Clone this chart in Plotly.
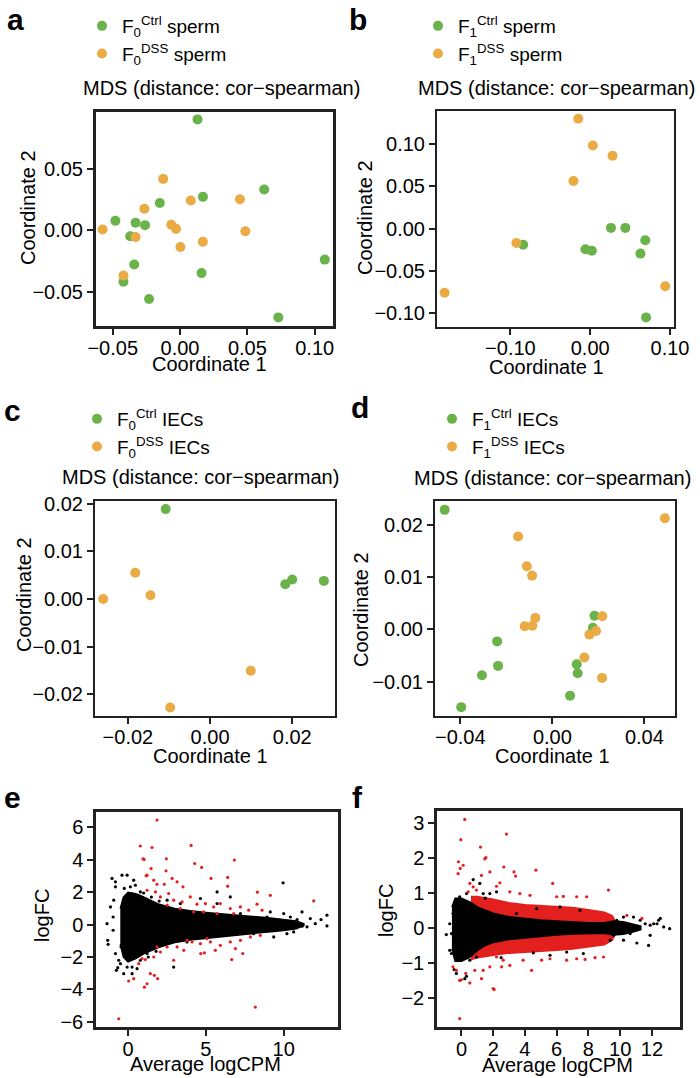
import plotly.graph_objects as go

W, H = 700, 1078
FONT = "Liberation Sans, Arial, Helvetica, sans-serif"
GREEN = "#6AB24A"
ORANGE = "#EAAB45"
RED = "#E3201E"

# ---------------- Panel a: F0 sperm MDS ----------------
a_ctrl_x = [0.013, -0.015, 0.017, 0.0625, -0.048, -0.033, -0.026, -0.037, -0.034, 0.016, -0.042, -0.023, 0.073, 0.1075]
a_ctrl_y = [0.090, 0.022, 0.027, 0.033, 0.0076, 0.006, 0.004, -0.005, -0.028, -0.035, -0.042, -0.056, -0.071, -0.024]
a_dss_x = [-0.0575, -0.0125, -0.0265, 0.008, 0.0445, -0.0065, -0.003, -0.033, 0.0003, 0.017, 0.0485, -0.042]
a_dss_y = [0.0005, 0.0416, 0.0173, 0.024, 0.025, 0.0043, 0.001, -0.0057, -0.0138, -0.0095, -0.001, -0.037]

# ---------------- Panel b: F1 sperm MDS ----------------
b_ctrl_x = [-0.084, -0.006, 0.002, 0.026, 0.044, 0.069, 0.063, 0.070]
b_ctrl_y = [-0.019, -0.0244, -0.026, 0.0008, 0.0008, -0.0138, -0.0295, -0.1047]
b_dss_x = [-0.015, 0.0033, 0.028, -0.021, -0.0925, -0.1825, 0.094]
b_dss_y = [0.1295, 0.098, 0.086, 0.056, -0.017, -0.0756, -0.068]

# ---------------- Panel c: F0 IECs MDS ----------------
c_ctrl_x = [-0.0108, 0.0183, 0.0200, 0.0277]
c_ctrl_y = [0.0189, 0.0031, 0.0041, 0.0038]
c_dss_x = [-0.026, -0.0182, -0.0145, 0.0099, -0.0097]
c_dss_y = [0.0, 0.0055, 0.0008, -0.0151, -0.0228]

# ---------------- Panel d: F1 IECs MDS ----------------
d_ctrl_x = [-0.0468, -0.024, -0.0236, -0.0306, -0.0396, 0.0183, 0.0176, 0.0106, 0.011, 0.0077]
d_ctrl_y = [0.0229, -0.0023, -0.0070, -0.0088, -0.0149, 0.0026, 0.0003, -0.0067, -0.0084, -0.0127]
d_dss_x = [0.0489, -0.0149, -0.0111, -0.0088, -0.0074, -0.012, -0.0087, 0.0217, 0.019, 0.0161, 0.0139, 0.0216]
d_dss_y = [0.0213, 0.0178, 0.0121, 0.0103, 0.0022, 0.0006, 0.0007, 0.0025, -0.0003, -0.001, -0.0054, -0.0093]

# ---------------- Panel e: MA plot (F0) ----------------
# dense black cloud outline (upper / lower edge of the bulk of genes)
e_core_x = [-0.5, -0.3, 0, 0.5, 1, 1.5, 2, 3, 4, 5, 6, 7, 8, 9, 10, 10.8, 11.3]
e_core_hi = [1.0, 1.7, 2.0, 1.9, 1.7, 1.45, 1.25, 1.0, 0.85, 0.75, 0.68, 0.6, 0.5, 0.42, 0.33, 0.22, 0.05]
e_core_lo = [-1.2, -2.0, -2.3, -2.1, -1.8, -1.6, -1.4, -1.1, -0.95, -0.85, -0.75, -0.65, -0.55, -0.45, -0.36, -0.25, -0.05]
e_red_x = [1.86, 0.79, 1.54, 4.05, 0.96, 1.03, 2.46, 6.83, 4.28, 4.73, 1.48, 1.22, 1.16, 2.44, 5.33, 6.4, 6.4,
           8.31, 9.14, 11.93, 1.65, 1.86, 2.33, 2.83, 3.15, 3.53, 1.76, 2.08, 2.61, 2.93, 3.47, 4.0, 4.43, 4.97,
           5.5, 5.93, 6.57, 7.22, 7.75, 8.29, 8.61, 4.86, 4.22, 5.72, 6.79, 3.36, 2.51, 1.22,
           0.04, 0.36, 1.05, 1.22, 1.43, 1.69, 1.9, 0.69, 0.9, 1.11, 2.93, 4.67, 4.9, 6.66, 7.37, 8.18, -0.6,
           2.08, 2.51, 3.15, 3.58, 4.11, 4.65, 5.29, 5.93, 6.57, 7.22, 7.86, 8.5, 3.79, 5.07, 1.65, 1.86, 5.61, 6.9]
e_red_y = [6.45, 4.85, 4.76, 4.89, 4.06, 4.02, 4.06, 3.98, 3.77, 3.53, 3.46, 3.05, 3.01, 3.32, 2.85, 2.91, 2.37,
           2.0, 1.81, 1.46, 2.74, 2.49, 2.49, 2.85, 2.64, 2.33, 2.02, 1.71, 1.92, 1.51, 1.40, 1.71, 1.26, 1.30,
           1.09, 1.30, 0.99, 1.09, 0.89, 1.26, 0.89, 0.78, 0.78, 0.68, 0.68, 0.99, 1.2, 2.12,
           -3.48, -3.34, -3.86, -3.65, -3.03, -3.13, -3.34, -2.41, -2.1, -2.16, -2.2, -1.79, -1.75, -2.16, -1.79, -5.09, -5.81,
           -1.69, -1.38, -1.38, -1.59, -1.07, -1.18, -1.07, -1.28, -1.07, -0.97, -0.76, -0.66, -0.97, -0.87, -2.0, -1.38, -1.59, -1.48]
e_blk_x = [-1.35, -1.31, -1.28, -1.03, -0.81, -0.75, -0.66, -0.49, -0.45, -0.92, -0.81, -0.39, -0.06, 0.36, 0.26,
           -0.28, -0.06, 9.96, 11.18, 12.78, 12.78, 12.4, 12.03, 11.71, 11.5, 11.18, 10.86, 10.43, 10.64, 10.21,
           6.57, 5.72, 2.93, 4.65, 9.14, 10.0, 9.36,
           -1.13, -0.96, -0.96, -0.81, -0.6, -0.24, 0.15, 0.47, 0.79, 0.26, 0.58, 0.79, 1.22, 2.51, 3.36, 3.79,
           5.72, 7.22, 8.07, 8.93, 1.0, 1.5, 2.0, 1.3, 1.8]
e_blk_y = [0.06, -0.97, -1.22, 2.85, 2.64, -2.82, -2.66, -2.41, -1.38, 1.51, 2.33, 3.05, 3.05, 2.74, -3.03,
           -3.03, -2.62, 2.58, 0.78, 0.58, -0.08, 0.31, 0.06, 0.37, -0.14, -0.1, 0.31, 0.47, -0.45, -0.56,
           1.71, 2.02, -2.62, 1.61, 0.78, 0.68, -0.76,
           1.09, 0.47, -0.35, -1.79, -2.2, 2.23, 2.33, 2.43, 2.02, -2.62, -2.72, -2.2, -1.79, 1.51, 1.3, -1.07,
           1.3, 0.68, -0.56, 0.47, 1.95, 1.7, 1.45, -2.0, -1.65]

# ---------------- Panel f: MA plot (F1) ----------------
f_core_x = [-0.6, -0.4, 0, 0.5, 1, 1.5, 2, 3, 4, 5, 6, 7, 8, 9, 9.6, 10.2, 10.8, 11.3]
f_core_hi = [0.6, 0.85, 0.85, 0.75, 0.6, 0.5, 0.42, 0.32, 0.27, 0.23, 0.2, 0.17, 0.15, 0.15, 0.2, 0.18, 0.12, 0.05]
f_core_lo = [-0.6, -0.95, -0.95, -0.85, -0.65, -0.5, -0.42, -0.33, -0.28, -0.24, -0.2, -0.17, -0.15, -0.15, -0.2, -0.18, -0.12, -0.05]
f_band_x = [0.6, 1, 2, 3, 4, 5, 6, 7, 8, 9, 9.5, 9.8]
f_band_hi = [0.9, 0.9, 0.82, 0.72, 0.66, 0.64, 0.62, 0.58, 0.52, 0.45, 0.35, 0.1]
f_band_lo = [-0.9, -0.85, -0.78, -0.72, -0.68, -0.66, -0.64, -0.6, -0.55, -0.48, -0.35, -0.1]
f_red_x = [0.21, -0.04, 2.84, 1.2, 1.54, 1.47, -0.19, 0.11, -0.08, -0.21, 2.67, 4.69, 3.31, 3.41, 1.79, 1.26,
           5.75, 2.42, 2.21, 9.26, 4.32, 6.0, 6.42, 7.26, 7.89, 3.05, 3.68, 0.53, 0.74, 0.95, 0.42, 10.42, 11.37,
           -0.11, 2.0, 2.06, 1.26, 0.53, -0.11, 0.0, 0.27, 4.42, 0.84, 1.37, 1.79, 2.53, 3.05, 6.63, 7.26, 7.79,
           8.42, 8.95, 5.05, 5.58, 3.89, -0.32, -0.53, 2.21, 2.63]
f_red_y = [3.1, 2.52, 2.68, 2.31, 2.01, 1.97, 1.89, 1.79, 1.7, 1.55, 1.74, 1.65, 1.6, 1.48, 1.6, 1.5,
           1.27, 1.29, 1.19, 1.08, 0.93, 0.89, 0.9, 0.89, 0.89, 1.03, 0.98, 1.27, 1.17, 1.08, 1.03, 0.36, 0.27,
           -2.59, -1.73, -1.76, -1.45, -1.57, -1.5, -1.48, -1.3, -1.21, -1.21, -1.21, -1.11, -1.11, -1.07, -0.92, -0.88, -0.9,
           -0.85, -0.83, -0.92, -0.88, -0.92, -1.21, -1.11, -0.83, -0.92]
f_blk_x = [-0.95, -0.74, -0.74, -0.63, -0.46, -0.32, 0.21, 0.32, 0.74, 1.16, 1.37, 1.79, 2.21, -0.32, -0.42,
           11.89, 12.32, 12.74, 13.12, 11.89, 11.79, 11.05, 10.84, 11.26, 11.58, 12.11, 12.42, 12.53,
           10.53, 10.21, 9.89, 9.58, 9.37, 9.79, 10.21, 10.63, 6.63, 5.58, 4.53, 7.68, 3.47, 4.74, 6.21, 7.47,
           -0.53, -0.63, -0.48, -0.11, 0.32, 0.53, 0.95, 1.5, 2.5]
f_blk_y = [-0.19, 0.12, -0.64, -0.73, -1.19, -1.3, -1.45, -1.38, 1.38, 1.27, 0.98, 0.98, 1.03, 0.79, 0.7,
           0.08, 0.12, 0.03, -0.02, -0.21, -0.5, -0.43, 0.31, 0.22, 0.12, 0.12, 0.22, 0.27,
           0.03, 0.31, -0.11, -0.21, -0.35, 0.22, -0.35, -0.16, -0.69, -0.78, -0.71, -0.73, 0.41, 0.55, 0.6, 0.5,
           0.41, -0.16, -0.54, 0.89, 0.98, -0.92, -0.83, 0.85, -0.85]

# ---------------- figure ----------------
fig = go.Figure()

def mds(xs, ys, color, name, ax, leg):
    fig.add_trace(go.Scatter(x=xs, y=ys, mode="markers", name=name,
                             marker=dict(color=color, size=10, line=dict(width=0)),
                             xaxis="x" + ax, yaxis="y" + ax, legend=leg))

mds(a_ctrl_x, a_ctrl_y, GREEN, "F<sub>0</sub><sup>Ctrl</sup> sperm", "", "legend")
mds(a_dss_x, a_dss_y, ORANGE, "F<sub>0</sub><sup>DSS</sup> sperm", "", "legend")
mds(b_ctrl_x, b_ctrl_y, GREEN, "F<sub>1</sub><sup>Ctrl</sup> sperm", "2", "legend2")
mds(b_dss_x, b_dss_y, ORANGE, "F<sub>1</sub><sup>DSS</sup> sperm", "2", "legend2")
mds(c_ctrl_x, c_ctrl_y, GREEN, "F<sub>0</sub><sup>Ctrl</sup> IECs", "3", "legend3")
mds(c_dss_x, c_dss_y, ORANGE, "F<sub>0</sub><sup>DSS</sup> IECs", "3", "legend3")
mds(d_ctrl_x, d_ctrl_y, GREEN, "F<sub>1</sub><sup>Ctrl</sup> IECs", "4", "legend4")
mds(d_dss_x, d_dss_y, ORANGE, "F<sub>1</sub><sup>DSS</sup> IECs", "4", "legend4")

def envelope(xs, hi, lo, color, ax):
    fig.add_trace(go.Scatter(x=list(xs) + list(xs)[::-1], y=list(hi) + list(lo)[::-1],
                             mode="lines", fill="toself", fillcolor=color,
                             line=dict(color=color, width=1.5), showlegend=False,
                             hoverinfo="skip", xaxis="x" + ax, yaxis="y" + ax))

def dots(xs, ys, color, ax):
    fig.add_trace(go.Scatter(x=xs, y=ys, mode="markers", showlegend=False,
                             marker=dict(color=color, size=3.2, line=dict(width=0)),
                             xaxis="x" + ax, yaxis="y" + ax))

envelope(e_core_x, e_core_hi, e_core_lo, "black", "5")
dots(e_blk_x, e_blk_y, "black", "5")
dots(e_red_x, e_red_y, RED, "5")

envelope(f_band_x, f_band_hi, f_band_lo, RED, "6")
envelope(f_core_x, f_core_hi, f_core_lo, "black", "6")
dots(f_blk_x, f_blk_y, "black", "6")
dots(f_red_x, f_red_y, RED, "6")

# panel boxes in pixels: (left, right, top, bottom)
boxes = {
    "": (96, 333, 112, 326),
    "2": (437, 674, 111, 327),
    "3": (95, 335, 501, 716),
    "4": (435, 675, 501, 716),
    "5": (96, 338, 812, 1027),
    "6": (437, 680, 811, 1027),
}
ranges = {
    "": ([-0.0624, 0.1136], [-0.078, 0.096]),
    "2": ([-0.192, 0.105], [-0.116, 0.1386]),
    "3": ([-0.028, 0.0304], [-0.0246, 0.0206]),
    "4": ([-0.051, 0.0533], [-0.0166, 0.0246]),
    "5": ([-2.06, 13.49], [-6.32, 6.95]),
    "6": ([-1.54, 13.77], [-2.83, 3.34]),
}
ticks = {
    "": ([-0.05, 0, 0.05, 0.10], [-0.05, 0, 0.05], ".2f", ".2f"),
    "2": ([-0.10, 0, 0.10], [-0.10, -0.05, 0, 0.05, 0.10], ".2f", ".2f"),
    "3": ([-0.02, 0, 0.02], [-0.02, -0.01, 0, 0.01, 0.02], ".2f", ".2f"),
    "4": ([-0.04, 0, 0.04], [-0.01, 0, 0.01, 0.02], ".2f", ".2f"),
    "5": ([0, 5, 10], [-6, -4, -2, 0, 2, 4, 6], "d", "d"),
    "6": ([0, 2, 4, 6, 8, 10, 12], [-2, -1, 0, 1, 2, 3], "d", "d"),
}
lw = {"": 3, "2": 2, "3": 2, "4": 2, "5": 2.5, "6": 2.5}

layout = dict(width=W, height=H, margin=dict(l=0, r=0, t=0, b=0, autoexpand=False),
              paper_bgcolor="white", plot_bgcolor="white",
              font=dict(family=FONT, color="black", size=20), showlegend=True)

for k, (l, r, t, b) in boxes.items():
    xr, yr = ranges[k]
    xt, yt, xf, yf = ticks[k]
    common = dict(showline=True, mirror=True, linecolor="#222", linewidth=lw[k],
                  ticks="outside", ticklen=6, tickwidth=1.5, tickcolor="#222",
                  showgrid=False, zeroline=False, automargin=False,
                  tickfont=dict(size=20, color="black", family=FONT))
    layout["xaxis" + k] = dict(domain=[l / W, r / W], range=xr, tickvals=xt, tickformat=xf,
                               anchor="y" + k, ticklabelstandoff=-4, **common)
    layout["yaxis" + k] = dict(domain=[1 - b / H, 1 - t / H], range=yr, tickvals=yt, tickformat=yf,
                               anchor="x" + k, **common)

def leg(xpx, ypx):
    return dict(x=xpx / W, y=1 - ypx / H, xanchor="left", yanchor="top",
                bgcolor="rgba(0,0,0,0)", font=dict(size=19, family=FONT, color="black"),
                tracegroupgap=0, itemwidth=30)

layout["legend"] = leg(82, 7)
layout["legend2"] = leg(418, 7)
layout["legend3"] = leg(77, 400)
layout["legend4"] = leg(432, 400)

ann = []
def text(t, xpx, ypx, size=20, angle=0, bold=False):
    ann.append(dict(text=("<b>%s</b>" % t) if bold else t, x=xpx / W, y=1 - ypx / H,
                    xref="paper", yref="paper", showarrow=False, textangle=angle,
                    xanchor="center", yanchor="middle",
                    font=dict(size=size, family=FONT, color="black")))

for lab, xx, yy in [("a", 15, 19), ("b", 358, 19), ("c", 12, 410), ("d", 360, 408), ("e", 12, 797), ("f", 357, 797)]:
    text(lab, xx, yy, size=30, bold=True)

ttl = "MDS (distance: cor\u2212spearman)"
text(ttl, 221, 88)
text(ttl, 556, 88)
text(ttl, 200, 477)
text(ttl, 552, 478)

text("Coordinate 1", 209, 364)
text("Coordinate 1", 546, 367)
text("Coordinate 1", 210, 756)
text("Coordinate 1", 552, 756)
text("Coordinate 2", 28, 208, angle=-90)
text("Coordinate 2", 365, 218, angle=-90)
text("Coordinate 2", 24, 595, angle=-90)
text("Coordinate 2", 361, 610, angle=-90)
text("Average logCPM", 206, 1064)
text("Average logCPM", 557, 1065)
text("logFC", 42, 916, angle=-90)
text("logFC", 386, 910, angle=-90)

layout["annotations"] = ann
fig.update_layout(**layout)
fig.write_html("out.html", config={"displayModeBar": False},
               post_script="document.body.style.margin='0';document.body.style.overflow='hidden';")
